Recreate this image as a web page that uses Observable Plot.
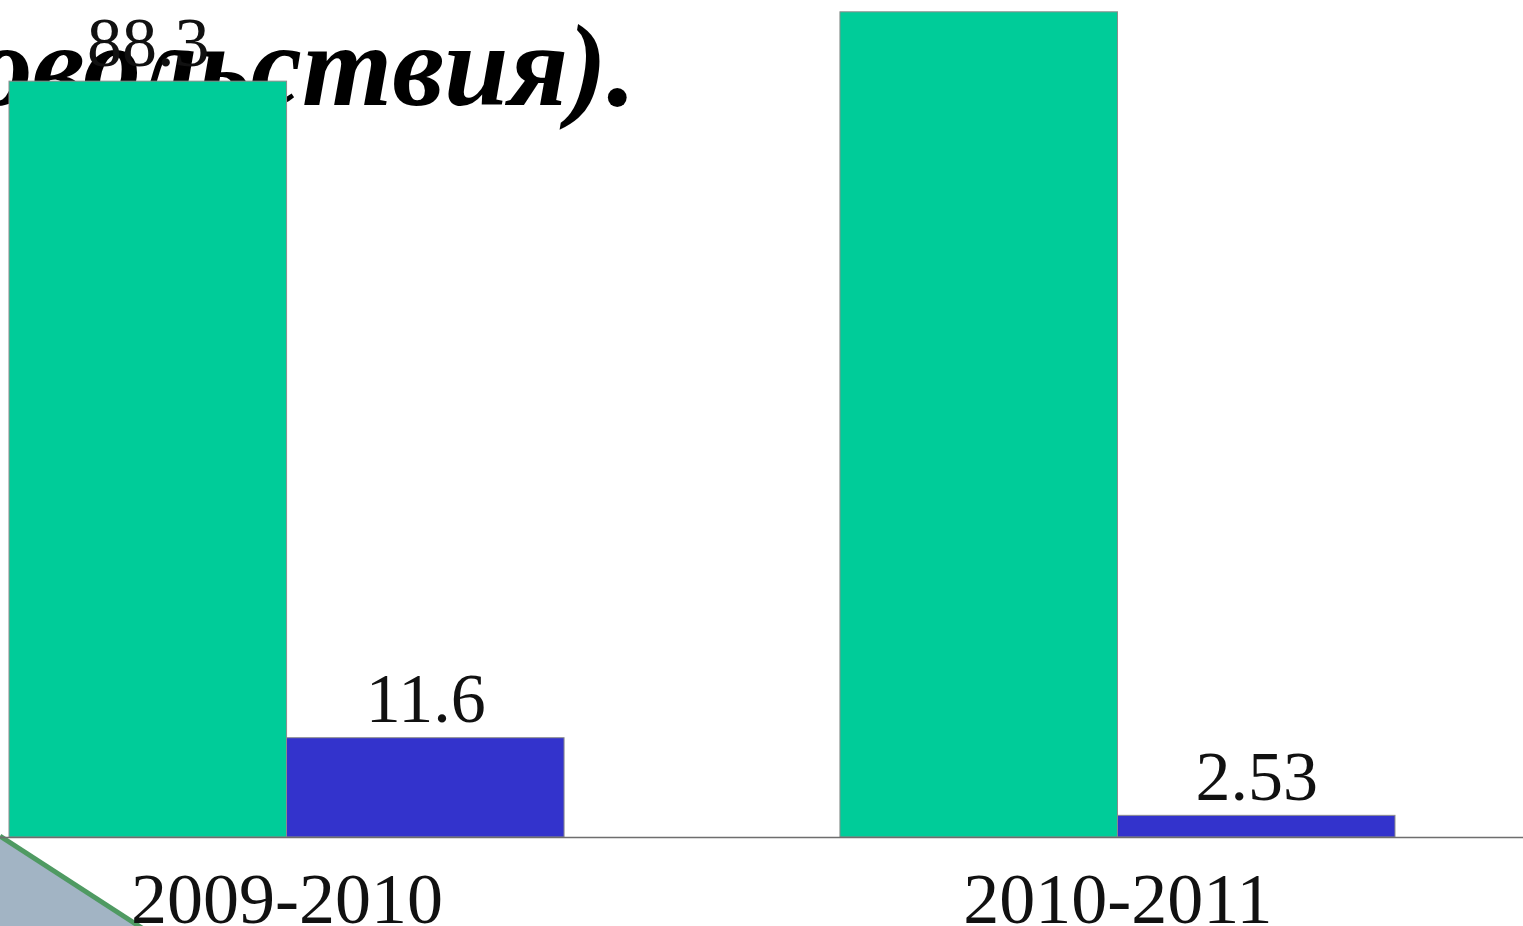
<!DOCTYPE html>
<html>
<head>
<meta charset="utf-8">
<script src="https://cdn.jsdelivr.net/npm/d3@7"></script>
<script src="https://cdn.jsdelivr.net/npm/@observablehq/plot@0.6"></script>
<style>
  html, body { margin: 0; padding: 0; background: #ffffff; }
  #wrap { position: relative; width: 1523px; height: 926px; overflow: hidden; }
  #bg { position: absolute; left: 0; top: 0; }
  #chart { position: absolute; left: 0; top: 0; }
</style>
</head>
<body>
<div id="wrap">
  <svg id="bg" width="1523" height="926">
    <polygon points="0,838 136,926 0,926" fill="#a2b4c4"></polygon>
    <line x1="0" y1="836" x2="142" y2="928" stroke="#4f9a62" stroke-width="5"></line>
    <text x="636" y="105" text-anchor="end" font-family="'Liberation Serif', 'Times New Roman', serif" font-weight="bold" font-style="italic" font-size="116" fill="#000">(удовольствия).</text>
  </svg>
  <div id="chart"></div>
</div>
<script>
const years = ["2009-2010", "2010-2011"];
const greenValues = [88.3, 96.4];
const blueValues = [11.6, 2.53];
const greenLabels = ["88.3", "96.4"];
const blueLabels = ["11.6", "2.53"];

const green = years.map((year, i) => ({year, value: greenValues[i], label: greenLabels[i]}));
const blue = years.map((year, i) => ({year, value: blueValues[i], label: blueLabels[i]}));

const bandwidth = 555;
const half = bandwidth / 2;
const font = "'Liberation Serif', 'Times New Roman', serif";

const chart = Plot.plot({
  width: 1523,
  height: 926,
  margin: 0,
  style: {background: "transparent", overflow: "visible"},
  x: {domain: years, range: [9, 1395], paddingInner: 0.332, paddingOuter: 0, round: false, axis: null},
  y: {domain: [0, 97.78], range: [837, 0], axis: null},
  marks: [
    Plot.barY(green, {x: "year", y: "value", fill: "#00cc99", stroke: "#8c8c8c", strokeWidth: 1, insetRight: half}),
    Plot.barY(blue, {x: "year", y: "value", fill: "#3333cc", stroke: "#8c8c8c", strokeWidth: 1, insetLeft: half}),
    Plot.ruleY([0], {stroke: "#6e6e6e", strokeWidth: 1.5}),
    Plot.text(green, {x: "year", y: "value", text: "label", dx: -half / 2, dy: -16, lineAnchor: "bottom", fontSize: 70, fontFamily: font, fill: "#111"}),
    Plot.text(blue, {x: "year", y: "value", text: "label", dx: half / 2, dy: -16, lineAnchor: "bottom", fontSize: 70, fontFamily: font, fill: "#111"}),
    Plot.text(years, {x: d => d, frameAnchor: "bottom", lineAnchor: "bottom", dy: -4, fontSize: 72, fontFamily: font, fill: "#111"})
  ]
});
document.getElementById("chart").appendChild(chart);
</script>
</body>
</html>
